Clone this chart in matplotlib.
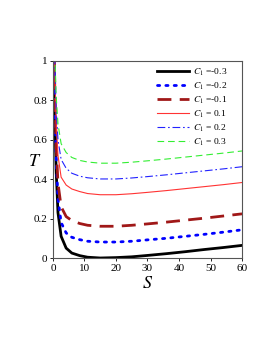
import matplotlib
matplotlib.use("Agg")
import matplotlib.pyplot as plt

S = [0.3, 0.6, 1.0, 1.6, 2.6, 4.2, 6, 8.5, 11, 15, 20, 25, 30, 36, 42, 48, 54, 60]

T_m03 = [1.05, 0.75, 0.45, 0.23, 0.11, 0.05, 0.025, 0.012, 0.004, 0.0, 0.002, 0.006,
         0.013, 0.022, 0.032, 0.043, 0.053, 0.064]
T_m02 = [1.1, 0.8, 0.52, 0.30, 0.18, 0.127, 0.105, 0.093, 0.085, 0.081, 0.081, 0.085,
         0.092, 0.10, 0.11, 0.12, 0.131, 0.143]
T_m01 = [1.15, 0.85, 0.58, 0.38, 0.26, 0.21, 0.19, 0.175, 0.166, 0.161, 0.161, 0.166,
         0.173, 0.182, 0.192, 0.202, 0.213, 0.224]
T_p01 = [1.2, 0.95, 0.70, 0.52, 0.41, 0.37, 0.35, 0.337, 0.327, 0.321, 0.321, 0.326,
         0.333, 0.342, 0.352, 0.362, 0.372, 0.383]
T_p02 = [1.25, 1.0, 0.76, 0.60, 0.50, 0.455, 0.43, 0.415, 0.407, 0.401, 0.401, 0.406,
         0.413, 0.422, 0.432, 0.442, 0.452, 0.463]
T_p03 = [1.3, 1.05, 0.83, 0.68, 0.58, 0.535, 0.51, 0.495, 0.487, 0.481, 0.481, 0.486,
         0.493, 0.502, 0.512, 0.522, 0.532, 0.543]

labels = ["-0.3", "-0.2", "-0.1", "0.1", "0.2", "0.3"]

plt.rcParams["font.family"] = ["Liberation Serif", "DejaVu Serif"]
plt.rcParams["mathtext.fontset"] = "stix"

fig = plt.figure(figsize=(2.66, 3.44), dpi=100)
ax = fig.add_axes([0.199, 0.25, 0.711, 0.573])

ax.plot(S, T_m03, color="black", lw=2.0, label=r"$C_1$ =" + labels[0])
ax.plot(S, T_m02, color="#0000ff", lw=2.0, linestyle=(0, (0.8, 2.2)),
        dash_capstyle="round", label=r"$C_1$ =" + labels[1])
ax.plot(S, T_m01, color="#a01818", lw=2.0, linestyle=(0, (5, 3)),
        label=r"$C_1$ =" + labels[2])
ax.plot(S, T_p01, color="#ff3333", lw=0.8, label=r"$C_1$ = " + labels[3])
ax.plot(S, T_p02, color="#2222ff", lw=0.8, linestyle=(0, (7, 2.5, 1.5, 2.5)),
        label=r"$C_1$ = " + labels[4])
ax.plot(S, T_p03, color="#33ee33", lw=0.8, linestyle=(0, (6, 3.5)),
        label=r"$C_1$ = " + labels[5])

ax.set_xlim(0, 60)
ax.set_ylim(0, 1)
ax.set_xticks([0, 10, 20, 30, 40, 50, 60])
ax.set_yticks([0, 0.2, 0.4, 0.6, 0.8, 1])
ax.set_yticklabels(["0", "0.2", "0.4", "0.6", "0.8", "1"])
ax.tick_params(labelsize=8, length=2.5, width=0.6, pad=1.5)
for sp in ax.spines.values():
    sp.set_color("#555555")
    sp.set_linewidth(0.8)

ax.set_xlabel(r"$S$", fontsize=13, labelpad=2)
ax.set_ylabel(r"$T$", fontsize=13, rotation=0, va="center", ha="center")
ax.yaxis.set_label_coords(-0.095, 0.49)

ax.legend(loc="upper left", bbox_to_anchor=(0.52, 1.0), frameon=False,
          fontsize=6.8, handlelength=3.4, handletextpad=0.4, labelspacing=0.3,
          borderaxespad=0.2)

fig.savefig("out.png", dpi=100)
